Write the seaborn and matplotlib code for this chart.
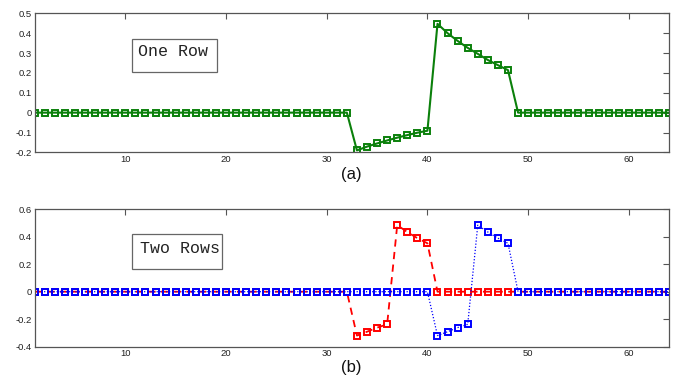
import numpy as np
import pandas as pd
import matplotlib
matplotlib.use("Agg")
import matplotlib.pyplot as plt
from matplotlib.patches import Rectangle
import seaborn as sns

# sample index (1..64)
index = list(range(1, 65))

# one-row response
one_row = [0.0, 0.0, 0.0, 0.0, 0.0, 0.0, 0.0, 0.0, 0.0, 0.0, 0.0, 0.0, 0.0, 0.0, 0.0, 0.0,
           0.0, 0.0, 0.0, 0.0, 0.0, 0.0, 0.0, 0.0, 0.0, 0.0, 0.0, 0.0, 0.0, 0.0, 0.0, 0.0,
           -0.19, -0.171, -0.155, -0.14, -0.126, -0.113, -0.101, -0.091,
           0.447, 0.40, 0.361, 0.326, 0.296, 0.265, 0.239, 0.214,
           0.0, 0.0, 0.0, 0.0, 0.0, 0.0, 0.0, 0.0, 0.0, 0.0, 0.0, 0.0, 0.0, 0.0, 0.0, 0.0]

# two-row responses
row_first = [0.0, 0.0, 0.0, 0.0, 0.0, 0.0, 0.0, 0.0, 0.0, 0.0, 0.0, 0.0, 0.0, 0.0, 0.0, 0.0,
             0.0, 0.0, 0.0, 0.0, 0.0, 0.0, 0.0, 0.0, 0.0, 0.0, 0.0, 0.0, 0.0, 0.0, 0.0, 0.0,
             -0.32, -0.292, -0.262, -0.238, 0.485, 0.435, 0.39, 0.353,
             0.0, 0.0, 0.0, 0.0, 0.0, 0.0, 0.0, 0.0,
             0.0, 0.0, 0.0, 0.0, 0.0, 0.0, 0.0, 0.0, 0.0, 0.0, 0.0, 0.0, 0.0, 0.0, 0.0, 0.0]
row_second = [0.0, 0.0, 0.0, 0.0, 0.0, 0.0, 0.0, 0.0, 0.0, 0.0, 0.0, 0.0, 0.0, 0.0, 0.0, 0.0,
              0.0, 0.0, 0.0, 0.0, 0.0, 0.0, 0.0, 0.0, 0.0, 0.0, 0.0, 0.0, 0.0, 0.0, 0.0, 0.0,
              0.0, 0.0, 0.0, 0.0, 0.0, 0.0, 0.0, 0.0,
              -0.32, -0.292, -0.262, -0.238, 0.485, 0.435, 0.39, 0.353,
              0.0, 0.0, 0.0, 0.0, 0.0, 0.0, 0.0, 0.0, 0.0, 0.0, 0.0, 0.0, 0.0, 0.0, 0.0, 0.0]

x_ticks = [10, 20, 30, 40, 50, 60]
y_ticks_a = [-0.2, -0.1, 0.0, 0.1, 0.2, 0.3, 0.4, 0.5]
y_labels_a = ["-0.2", "-0.1", "0", "0.1", "0.2", "0.3", "0.4", "0.5"]
y_ticks_b = [-0.4, -0.2, 0.0, 0.2, 0.4, 0.6]
y_labels_b = ["-0.4", "-0.2", "0", "0.2", "0.4", "0.6"]

sns.set_style("white")
plt.rcParams["font.family"] = ["Liberation Sans", "DejaVu Sans"]
plt.rcParams["axes.unicode_minus"] = False

df = pd.DataFrame({"n": index, "one": one_row, "first": row_first, "second": row_second})

fig = plt.figure(figsize=(6.8, 3.8), dpi=100)
ax_a = fig.add_axes([0.051, 0.599, 0.933, 0.366])
ax_b = fig.add_axes([0.051, 0.088, 0.933, 0.361])


def trace(ax, col, color, lw, ls):
    sns.lineplot(data=df, x="n", y=col, ax=ax, color=color, linewidth=lw,
                 linestyle=ls, errorbar=None, marker="s", markersize=4.0,
                 markerfacecolor="none", markeredgecolor=color, markeredgewidth=1.4)


trace(ax_a, "one", "#0b800b", 1.5, "-")
trace(ax_b, "first", "#ff0000", 1.3, (0, (4, 3)))
trace(ax_b, "second", "#0000ff", 0.9, (0, (1, 1.5)))

for ax, yt, yl, ylim in [(ax_a, y_ticks_a, y_labels_a, (-0.2, 0.5)),
                         (ax_b, y_ticks_b, y_labels_b, (-0.4, 0.6))]:
    ax.set_xlim(1, 64)
    ax.set_ylim(*ylim)
    ax.set_xticks(x_ticks)
    ax.set_xticklabels([str(t) for t in x_ticks])
    ax.set_yticks(yt)
    ax.set_yticklabels(yl)
    ax.set_xlabel("")
    ax.set_ylabel("")
    ax.tick_params(direction="in", top=True, right=True, length=4, width=0.8,
                   color="#555555", labelsize=6.8, labelcolor="#222222", pad=2)
    for sp in ax.spines.values():
        sp.set_color("#555555")
        sp.set_linewidth(0.9)

# panel captions
fig.text(0.517, 1 - 174.3 / 380, "(a)", ha="center", va="center", fontsize=12, color="#111111")
fig.text(0.517, 1 - 367.5 / 380, "(b)", ha="center", va="center", fontsize=12, color="#111111")

# annotation boxes
def note(x0, y0, w, h, text, tx, ty):
    fig.patches.append(Rectangle((x0 / 680, 1 - (y0 + h) / 380), w / 680, h / 380,
                                 transform=fig.transFigure, fill=False,
                                 edgecolor="#666666", linewidth=0.9))
    fig.text(tx / 680, 1 - ty / 380, text, ha="left", va="baseline",
             fontsize=12, family="Liberation Mono", color="#222222")

note(132.3, 39.0, 84.4, 32.7, "One Row", 137.5, 56.0)
note(131.7, 234.0, 90.5, 35.3, "Two Rows", 139.5, 252.7)

fig.savefig("out.png", dpi=100)
